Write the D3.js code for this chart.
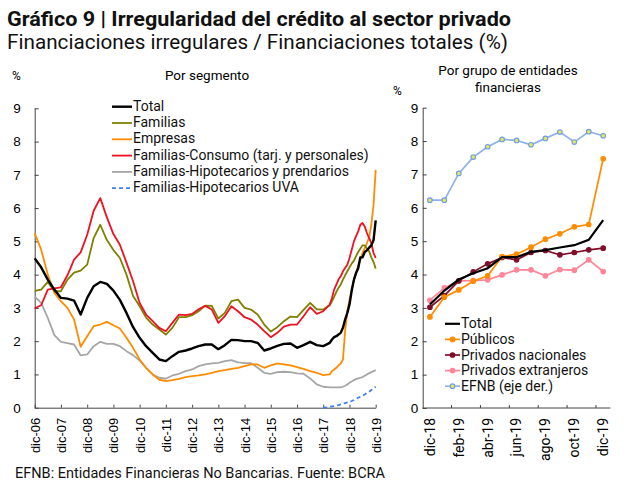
<!DOCTYPE html>
<html>
<head>
<meta charset="utf-8">
<script src="https://cdn.jsdelivr.net/npm/d3@7"></script>
<style>
  body { margin: 0; background: #fff; }
  svg { font-family: Roboto, "Noto Sans", sans-serif; }
</style>
</head>
<body>
<div id="chart"></div>
<script>
// ---- Left panel: por segmento (quarterly to mar-18, then monthly) ----
const leftDates = [
  "2006-12","2007-03","2007-06","2007-09","2007-12","2008-03","2008-06","2008-09","2008-12","2009-03",
  "2009-06","2009-09","2009-12","2010-03","2010-06","2010-09","2010-12","2011-03","2011-06","2011-09",
  "2011-12","2012-03","2012-06","2012-09","2012-12","2013-03","2013-06","2013-09","2013-12","2014-03",
  "2014-06","2014-09","2014-12","2015-03","2015-06","2015-09","2015-12","2016-03","2016-06","2016-09",
  "2016-12","2017-03","2017-06","2017-09","2017-12","2018-03",
  "2018-04","2018-05","2018-06","2018-07","2018-08","2018-09","2018-10","2018-11","2018-12",
  "2019-01","2019-02","2019-03","2019-04","2019-05","2019-06","2019-07","2019-08","2019-09",
  "2019-10","2019-11","2019-12"
];

const total = [
  4.49,4.22,3.85,3.55,3.30,3.28,3.22,2.80,3.30,3.65,
  3.78,3.72,3.52,3.24,2.85,2.42,2.10,1.85,1.65,1.45,
  1.40,1.55,1.68,1.72,1.78,1.85,1.90,1.90,1.76,1.88,
  2.04,2.03,2.00,2.00,1.95,1.72,1.78,1.86,1.92,1.93,
  1.80,1.88,1.98,1.88,1.85,1.95,
  2.05,2.12,2.15,2.20,2.25,2.40,2.65,2.85,3.10,
  3.52,3.85,4.04,4.19,4.52,4.52,4.68,4.73,4.81,
  4.88,5.04,5.63
];
const familias = [
  3.51,3.55,3.78,3.50,3.50,3.85,4.06,4.12,4.30,5.10,
  5.50,5.04,4.74,4.50,4.00,3.36,3.05,2.71,2.50,2.35,
  2.20,2.40,2.72,2.72,2.78,2.90,3.07,3.06,2.68,2.85,
  3.20,3.25,3.00,2.95,2.80,2.50,2.29,2.42,2.60,2.74,
  2.72,2.94,3.15,2.96,2.95,3.08,
  3.20,3.33,3.48,3.60,3.70,3.85,3.98,4.10,4.22,
  4.33,4.42,4.55,4.68,4.78,4.88,4.88,4.78,4.70,
  4.52,4.38,4.18
];
const empresas = [
  5.25,4.75,4.00,3.45,3.20,3.00,2.65,1.83,2.15,2.45,
  2.50,2.58,2.48,2.38,2.10,1.80,1.45,1.20,1.00,0.84,
  0.80,0.83,0.87,0.92,0.95,0.97,1.00,1.05,1.10,1.13,
  1.17,1.20,1.25,1.30,1.30,1.20,1.27,1.33,1.30,1.27,
  1.22,1.17,1.10,1.05,0.98,1.00,
  1.10,1.15,1.20,1.27,1.33,1.45,2.30,2.90,3.25,
  3.55,3.85,4.05,4.25,4.45,4.65,4.80,4.95,5.12,
  5.50,6.10,7.15
];
const consumo = [
  2.99,3.08,3.55,3.59,3.62,3.98,4.45,4.67,5.20,5.92,
  6.30,5.72,5.22,4.90,4.36,3.80,3.15,2.80,2.60,2.40,
  2.30,2.55,2.80,2.78,2.82,2.96,3.06,2.95,2.55,2.75,
  3.05,2.90,2.72,2.65,2.50,2.30,2.12,2.25,2.44,2.50,
  2.50,2.75,3.02,2.82,2.90,3.10,
  3.30,3.55,3.70,3.85,3.95,4.10,4.20,4.30,4.50,
  4.75,5.00,5.15,5.30,5.50,5.55,5.45,5.25,5.10,
  4.95,4.65,4.50
];
const hipotecarios = [
  3.34,3.15,2.70,2.18,1.98,1.94,1.90,1.57,1.60,1.85,
  1.98,1.92,1.92,1.85,1.70,1.58,1.42,1.20,1.00,0.90,
  0.87,0.97,1.02,1.10,1.15,1.25,1.30,1.33,1.35,1.40,
  1.43,1.36,1.34,1.34,1.20,1.05,1.02,1.07,1.08,1.07,
  1.03,1.02,0.88,0.70,0.63,0.61,
  0.61,0.61,0.61,0.61,0.61,0.63,0.66,0.70,0.75,
  0.79,0.83,0.86,0.88,0.90,0.92,0.96,1.00,1.04,
  1.07,1.10,1.13
];
const uva = [
  null,null,null,null,null,null,null,null,null,null,
  null,null,null,null,null,null,null,null,null,null,
  null,null,null,null,null,null,null,null,null,null,
  null,null,null,null,null,null,null,null,null,null,
  null,null,null,null,0.00,0.02,
  0.04,0.05,0.07,0.08,0.10,0.12,0.14,0.16,0.18,
  0.20,0.23,0.26,0.30,0.33,0.36,0.40,0.44,0.48,
  0.53,0.58,0.63
];
const leftTicks = ["2006-12","2007-12","2008-12","2009-12","2010-12","2011-12","2012-12",
  "2013-12","2014-12","2015-12","2016-12","2017-12","2018-12","2019-12"];

// ---- Right panel: por grupo de entidades financieras ----
const months = ["dic-18","ene-19","feb-19","mar-19","abr-19","may-19","jun-19",
  "jul-19","ago-19","sep-19","oct-19","nov-19","dic-19"];
const rightLabels = ["dic-18","feb-19","abr-19","jun-19","ago-19","oct-19","dic-19"];
const grpTotal = [3.10,3.52,3.85,4.04,4.19,4.52,4.52,4.68,4.73,4.81,4.88,5.04,5.63];
const publicos = [2.73,3.32,3.54,3.80,3.96,4.54,4.61,4.82,5.06,5.22,5.43,5.50,7.47];
const privNacionales = [3.02,3.37,3.81,4.08,4.32,4.51,4.44,4.66,4.72,4.59,4.66,4.74,4.79];
const privExtranjeros = [3.23,3.60,3.81,3.82,3.84,3.99,4.14,4.14,3.96,4.15,4.13,4.44,4.09];
const efnb = [6.23,6.23,7.03,7.52,7.83,8.05,8.02,7.89,8.08,8.27,7.97,8.28,8.16];

const yTicks = [0,1,2,3,4,5,6,7,8,9];

const width = 643, height = 502;
const svg = d3.select("#chart").append("svg")
  .attr("width", width).attr("height", height);

// Titles
svg.append("text").attr("x", 7).attr("y", 26)
  .attr("font-size", 20.5).attr("font-weight", "bold").attr("fill", "#111")
  .attr("textLength", 504).attr("lengthAdjust", "spacingAndGlyphs")
  .text("Gráfico 9 | Irregularidad del crédito al sector privado");
svg.append("text").attr("x", 7).attr("y", 49)
  .attr("font-size", 20.5).attr("fill", "#111")
  .attr("textLength", 501).attr("lengthAdjust", "spacingAndGlyphs")
  .text("Financiaciones irregulares / Financiaciones totales (%)");

const parse = d3.timeParse("%Y-%m");

// ---------- Left chart ----------
const xL = d3.scaleTime()
  .domain([parse("2006-12"), parse("2019-12")])
  .range([34.7, 375.7]);
const yL = d3.scaleLinear().domain([0, 9]).range([407.7, 108.3]);

const gL = svg.append("g");

gL.append("g")
  .attr("transform", `translate(${xL.range()[0]},0)`)
  .call(d3.axisLeft(yL).tickValues(yTicks).tickSizeInner(-4).tickSizeOuter(0).tickPadding(14))
  .call(g => g.selectAll("text").attr("font-size", 13.5).attr("fill", "#000"))
  .call(g => g.selectAll("line,path").attr("stroke", "#444"));

gL.append("g")
  .attr("transform", `translate(0,${yL(0)})`)
  .call(d3.axisBottom(xL).tickValues(leftTicks.map(parse)).tickSizeInner(-3).tickSizeOuter(0)
    .tickFormat(d => "dic-" + d3.timeFormat("%y")(d)))
  .call(g => g.selectAll("line,path").attr("stroke", "#444"))
  .call(g => g.selectAll("text")
    .attr("font-size", 13).attr("fill", "#000")
    .attr("text-anchor", "end")
    .attr("transform", "rotate(-90)")
    .attr("x", -10).attr("y", 0).attr("dy", "0.35em"));

svg.append("text").attr("x", 12).attr("y", 80).attr("font-size", 12).text("%");
svg.append("text").attr("x", 207).attr("y", 80).attr("font-size", 13.5)
  .attr("text-anchor", "middle").text("Por segmento");

const leftSeries = [
  { name: "Familias-Hipotecarios y prendarios", values: hipotecarios, color: "#a6a6a6", w: 1.8 },
  { name: "Familias-Hipotecarios UVA", values: uva, color: "#3f7ff0", w: 1.8, dash: "4,3" },
  { name: "Empresas", values: empresas, color: "#ff8c00", w: 1.8 },
  { name: "Familias", values: familias, color: "#808000", w: 1.8 },
  { name: "Familias-Consumo (tarj. y personales)", values: consumo, color: "#ee1122", w: 1.8 },
  { name: "Total", values: total, color: "#000", w: 2.4 }
];

const lineL = d3.line()
  .defined(d => d.v != null)
  .x(d => xL(d.t))
  .y(d => yL(d.v));

leftSeries.forEach(s => {
  const pts = leftDates.map((t, i) => ({ t: parse(t), v: s.values[i] }));
  gL.append("path").datum(pts)
    .attr("fill", "none").attr("stroke", s.color).attr("stroke-width", s.w)
    .attr("stroke-dasharray", s.dash || null)
    .attr("stroke-linejoin", "round")
    .attr("d", lineL);
});

// Left legend
const legendOrderL = ["Total", "Familias", "Empresas", "Familias-Consumo (tarj. y personales)",
  "Familias-Hipotecarios y prendarios", "Familias-Hipotecarios UVA"];
const legL = svg.append("g").attr("transform", "translate(112,110.7)");
legendOrderL.forEach((name, i) => {
  const s = leftSeries.find(d => d.name === name);
  const row = legL.append("g").attr("transform", `translate(0,${i * 16.3})`);
  row.append("line").attr("x1", 0).attr("x2", 20).attr("y1", -4).attr("y2", -4)
    .attr("stroke", s.color).attr("stroke-width", s.w).attr("stroke-dasharray", s.dash || null);
  row.append("text").attr("x", 21).attr("y", 0).attr("font-size", 14).attr("fill", "#111").text(name);
});

// ---------- Right chart ----------
const xR = d3.scaleBand().domain(months).range([422.7, 610.4]);
const yR = d3.scaleLinear().domain([0, 9]).range([408, 107.7]);
const cx = m => xR(m) + xR.bandwidth() / 2;

const gR = svg.append("g");

gR.append("g")
  .attr("transform", `translate(${xR.range()[0]},0)`)
  .call(d3.axisLeft(yR).tickValues(yTicks).tickSizeInner(-4).tickSizeOuter(0).tickPadding(4.5))
  .call(g => g.selectAll("text").attr("font-size", 13.5).attr("fill", "#000"))
  .call(g => g.selectAll("line,path").attr("stroke", "#444"));

const xAxisR = gR.append("g").attr("transform", `translate(0,${yR(0)})`);
xAxisR.append("line").attr("x1", xR.range()[0]).attr("x2", xR.range()[1])
  .attr("stroke", "#444");
xAxisR.selectAll(".tk").data(rightLabels.slice(1)).enter().append("line")
  .attr("class", "tk")
  .attr("x1", d => xR(d)).attr("x2", d => xR(d))
  .attr("y1", 0).attr("y2", -3).attr("stroke", "#444");
xAxisR.selectAll(".lb").data(rightLabels).enter().append("text")
  .attr("class", "lb")
  .attr("transform", d => `translate(${cx(d)},10) rotate(-90)`)
  .attr("text-anchor", "end").attr("dy", "0.35em")
  .attr("font-size", 14).attr("fill", "#000")
  .text(d => d);

svg.append("text").attr("x", 393).attr("y", 95).attr("font-size", 12).text("%");
svg.append("text").attr("x", 508).attr("y", 75).attr("font-size", 13.5)
  .attr("text-anchor", "middle").text("Por grupo de entidades");
svg.append("text").attr("x", 508).attr("y", 92).attr("font-size", 13.5)
  .attr("text-anchor", "middle").text("financieras");

const rightSeries = [
  { name: "EFNB (eje der.)", values: efnb, color: "#8fb2ec", marker: true, mStroke: "#6e9ce8", mFill: "#e6e85a" },
  { name: "Privados extranjeros", values: privExtranjeros, color: "#ff8597", marker: true, mStroke: "#ff8597", mFill: "#ff8597" },
  { name: "Privados nacionales", values: privNacionales, color: "#7e0f2a", marker: true, mStroke: "#7e0f2a", mFill: "#7e0f2a" },
  { name: "Públicos", values: publicos, color: "#ff8c00", marker: true, mStroke: "#ff8c00", mFill: "#ff8c00" },
  { name: "Total", values: grpTotal, color: "#000", marker: false }
];

const lineR = d3.line().x(d => cx(d.m)).y(d => yR(d.v));

rightSeries.forEach(s => {
  const pts = months.map((m, i) => ({ m, v: s.values[i] }));
  gR.append("path").datum(pts)
    .attr("fill", "none").attr("stroke", s.color)
    .attr("stroke-width", s.marker ? 1.7 : 2.2)
    .attr("d", lineR);
  if (s.marker) {
    gR.selectAll(null).data(pts).enter().append("circle")
      .attr("cx", d => cx(d.m)).attr("cy", d => yR(d.v)).attr("r", 2.3)
      .attr("fill", s.mFill).attr("stroke", s.mStroke).attr("stroke-width", 1.1);
  }
});

// Right legend
const legendOrderR = ["Total", "Públicos", "Privados nacionales", "Privados extranjeros", "EFNB (eje der.)"];
const legR = svg.append("g").attr("transform", "translate(445,328.3)");
legendOrderR.forEach((name, i) => {
  const s = rightSeries.find(d => d.name === name);
  const row = legR.append("g").attr("transform", `translate(0,${i * 15.6})`);
  row.append("line").attr("x1", 0).attr("x2", 15).attr("y1", -4.5).attr("y2", -4.5)
    .attr("stroke", s.color).attr("stroke-width", s.marker ? 1.7 : 2.2);
  if (s.marker) {
    row.append("circle").attr("cx", 7.5).attr("cy", -4.5).attr("r", 2.3)
      .attr("fill", s.mFill).attr("stroke", s.mStroke).attr("stroke-width", 1.1);
  }
  row.append("text").attr("x", 16).attr("y", 0).attr("font-size", 14).attr("fill", "#111").text(name);
});

// Footer
svg.append("text").attr("x", 15).attr("y", 478).attr("font-size", 14).attr("fill", "#111")
  .attr("textLength", 370).attr("lengthAdjust", "spacingAndGlyphs")
  .text("EFNB: Entidades Financieras No Bancarias. Fuente: BCRA");
</script>
</body>
</html>
